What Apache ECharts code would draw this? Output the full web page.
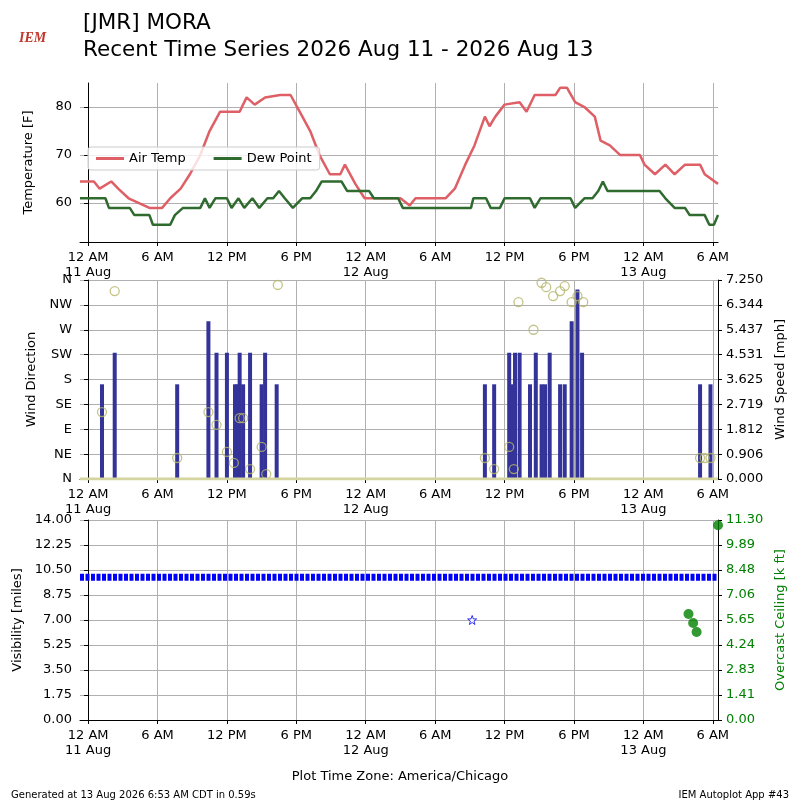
<!DOCTYPE html>
<html><head><meta charset="utf-8">
<script src="https://cdn.jsdelivr.net/npm/echarts@6/dist/echarts.min.js"></script>
<style>body{margin:0}#c{width:800px;height:800px}</style></head>
<body><div id="c"></div>
<script>
// hours since 12 AM 11 Aug (CDT)
var tickHours = [0, 6, 12, 18, 24, 30, 36, 42, 48, 54];
var tickLabels = ['12 AM\n11 Aug', '6 AM', '12 PM', '6 PM', '12 AM\n12 Aug', '6 AM', '12 PM', '6 PM', '12 AM\n13 Aug', '6 AM'];
var speedLabels = ['0.000', '0.906', '1.812', '2.719', '3.625', '4.531', '5.437', '6.344', '7.250'];
var ceilLabels = ['0.00', '1.41', '2.83', '4.24', '5.65', '7.06', '8.48', '9.89', '11.30'];

var airTemp = [[-0.7,64.5],[0.5,64.5],[1.0,63],[2.0,64.5],[2.6,63],[3.5,61],[5.3,59],[6.4,59],[7.1,61],[8.0,63],[8.8,66],[9.7,70],[10.5,75],[11.4,79],[13.1,79],[13.7,82],[14.4,80.5],[15.3,82],[16.6,82.5],[17.5,82.5],[18.3,79],[19.2,75],[20.0,70],[20.9,66],[21.8,66],[22.2,68],[23.1,64],[23.9,61],[27.0,61],[27.8,59.5],[28.3,61],[30.9,61],[31.7,63],[32.6,68],[33.4,72],[34.3,78],[34.7,76],[35.2,78],[36.0,80.5],[37.3,81],[37.9,79],[38.6,82.5],[40.4,82.5],[40.8,84],[41.4,84],[42.1,81],[42.9,80],[43.8,78],[44.3,73],[45.1,72],[46.0,70],[47.7,70],[48.1,68],[49.0,66],[49.9,68],[50.7,66],[51.6,68],[52.9,68],[53.3,66],[54.45,64]];
var dewPoint = [[-0.7,61],[1.5,61],[1.8,59],[3.6,59],[4.0,57.5],[5.3,57.5],[5.6,55.5],[7.1,55.5],[7.5,57.5],[8.2,59],[9.7,59],[10.1,61],[10.5,59],[11.0,61],[12.0,61],[12.4,59],[13.0,61],[13.5,59],[14.2,61],[14.8,59],[15.5,61],[16.0,61],[16.5,62.5],[17.0,61],[17.7,59],[18.5,61],[19.2,61],[19.7,62.5],[20.2,64.5],[21.9,64.5],[22.4,62.5],[24.3,62.5],[24.7,61],[26.8,61],[27.2,59],[33.1,59],[33.3,61],[34.4,61],[34.8,59],[35.6,59],[36.0,61],[38.2,61],[38.6,59],[39.1,61],[41.7,61],[42.1,59],[42.9,61],[43.6,61],[44.1,62.5],[44.5,64.5],[44.9,62.5],[49.4,62.5],[49.9,61],[50.7,59],[51.6,59],[52.0,57.5],[53.3,57.5],[53.7,55.5],[54.1,55.5],[54.45,57.5]];

var windSpeed = [[1.2,3.45],[2.3,4.6],[7.7,3.45],[10.4,5.75],[11.1,4.6],[12.0,4.6],[12.7,3.45],[12.9,3.45],[13.1,4.6],[13.4,3.45],[14.0,4.6],[15.0,3.45],[15.3,4.6],[16.3,3.45],[34.3,3.45],[35.1,3.45],[36.4,4.6],[36.6,3.45],[36.9,4.6],[37.3,4.6],[38.2,3.45],[38.7,4.6],[39.2,3.45],[39.5,3.45],[39.9,4.6],[40.8,3.45],[41.2,3.45],[41.8,5.75],[42.3,6.9],[42.7,4.6],[52.9,3.45],[53.8,3.45]];
var windDir = [[1.2,121],[2.3,340],[7.7,38],[10.4,121],[11.1,98],[12.0,49],[12.6,29],[13.1,110],[13.4,110],[14.0,18],[15.0,58],[15.4,9],[16.4,351],[34.3,38],[35.1,18],[36.4,58],[36.8,18],[37.2,320],[38.5,270],[39.2,355],[39.6,347],[40.2,331],[40.8,340],[41.2,349],[41.8,320],[42.3,331],[42.8,320],[52.9,38],[53.3,38],[53.8,38]];
var calmDir = [[-0.7,0],[54.45,0]];

var visNormal = [[-0.7,10],[54.45,10]];
var visLow = [[33.2,7]];
var ceiling = [[51.9,5.99],[52.3,5.48],[52.6,4.97],[54.45,11.0]];

var font = 'DejaVu Sans';
var xMin = -0.7, xMax = 54.45;
function xAx(i) {
  return {
    type: 'value', gridIndex: i, min: xMin, max: xMax,
    axisLine: {show: true, onZero: false, lineStyle: {color: '#000'}},
    axisTick: {show: true, customValues: tickHours, length: 4, lineStyle: {color: '#000'}},
    axisLabel: {show: true, customValues: tickHours, color: '#000', fontFamily: font, fontSize: 13, lineHeight: 15,
      formatter: function (v) { return tickLabels[tickHours.indexOf(Math.round(v))] || ''; }},
    splitLine: {show: true, lineStyle: {color: '#b0b0b0'}}
  };
}
function yAx(i, opt) {
  var a = {
    type: 'value', gridIndex: i,
    nameLocation: 'middle', nameTextStyle: {color: '#000', fontFamily: font, fontSize: 13},
    axisLine: {show: true, lineStyle: {color: '#000'}},
    axisTick: {show: true, length: 4, lineStyle: {color: '#000'}},
    axisLabel: {color: '#000', fontFamily: font, fontSize: 13},
    splitLine: {show: true, lineStyle: {color: '#b0b0b0'}}
  };
  for (var k in opt) a[k] = opt[k];
  return a;
}
var dirs = ['N', 'NE', 'E', 'SE', 'S', 'SW', 'W', 'NW', 'N'];
var chart = echarts.init(document.getElementById('c'));
chart.setOption({
  animation: false,
  backgroundColor: '#fff',
  title: [
    {text: 'IEM', left: 14, top: 26, textStyle: {color: '#c0392b', fontSize: 14, fontStyle: 'italic', fontFamily: 'Liberation Serif'}},
    {text: '[JMR] MORA\nRecent Time Series 2026 Aug 11 - 2026 Aug 13', left: 78, top: 5,
      textStyle: {color: '#000', fontFamily: font, fontSize: 21.5, fontWeight: 'normal', lineHeight: 27}},
    {text: 'Plot Time Zone: America/Chicago', left: 'center', top: 765, textStyle: {color: '#000', fontFamily: font, fontSize: 13, fontWeight: 'normal'}},
    {text: 'Generated at 13 Aug 2026 6:53 AM CDT in 0.59s', left: 6, top: 785, textStyle: {color: '#000', fontFamily: font, fontSize: 10, fontWeight: 'normal'}},
    {text: 'IEM Autoplot App #43', right: 6, top: 785, textStyle: {color: '#000', fontFamily: font, fontSize: 10, fontWeight: 'normal'}}
  ],
  legend: {
    left: 88, top: 147, itemWidth: 28, itemHeight: 3, itemGap: 28,
    backgroundColor: 'rgba(255,255,255,0.8)', borderColor: '#ccc', borderWidth: 1, borderRadius: 3, padding: [5, 8],
    textStyle: {color: '#000', fontFamily: font, fontSize: 13},
    data: [{name: 'Air Temp', icon: 'rect'}, {name: 'Dew Point', icon: 'rect'}]
  },
  grid: [
    {left: 80, right: 82, top: 83, height: 159},
    {left: 80, right: 82, top: 280, height: 199},
    {left: 80, right: 82, top: 520, height: 200}
  ],
  xAxis: [xAx(0), xAx(1), xAx(2)],
  yAxis: [
    yAx(0, {min: 51.9, max: 85, name: 'Temperature [F]', nameGap: 45,
      axisTick: {show: true, length: 4, customValues: [60, 70, 80]},
      axisLabel: {color: '#000', fontFamily: font, fontSize: 13, customValues: [60, 70, 80]}}),
    yAx(1, {min: 0, max: 360, interval: 45, name: 'Wind Direction', nameGap: 40,
      axisLabel: {color: '#000', fontFamily: font, fontSize: 13, formatter: function (v) { return dirs[Math.round(v / 45)]; }}}),
    yAx(1, {min: 0, max: 7.25, interval: 0.90625, position: 'right', name: 'Wind Speed [mph]', nameGap: 48,
      splitLine: {show: false},
      axisLabel: {color: '#000', fontFamily: font, fontSize: 13, formatter: function (v) { return speedLabels[Math.round(v / 0.90625)]; }}}),
    yAx(2, {min: 0, max: 14, interval: 1.75, name: 'Visibility [miles]', nameGap: 46,
      axisLabel: {color: '#000', fontFamily: font, fontSize: 13, formatter: function (v) { return v.toFixed(2); }}}),
    yAx(2, {min: 0, max: 11.3, interval: 1.4125, position: 'right', name: 'Overcast Ceiling [k ft]', nameGap: 42,
      nameTextStyle: {color: 'green', fontFamily: font, fontSize: 13}, splitLine: {show: false},
      axisLabel: {color: 'green', fontFamily: font, fontSize: 13, formatter: function (v) { return ceilLabels[Math.round(v / 1.4125)]; }}})
  ],
  series: [
    {name: 'Air Temp', type: 'line', xAxisIndex: 0, yAxisIndex: 0, data: airTemp, showSymbol: false,
      lineStyle: {color: '#de5f66', width: 2.5}, itemStyle: {color: '#de5f66'}},
    {name: 'Dew Point', type: 'line', xAxisIndex: 0, yAxisIndex: 0, data: dewPoint, showSymbol: false,
      lineStyle: {color: '#2f6a2f', width: 2.5}, itemStyle: {color: '#2f6a2f'}},
    {type: 'bar', xAxisIndex: 1, yAxisIndex: 2, data: windSpeed, barWidth: 4, itemStyle: {color: '#333399'}},
    {type: 'line', xAxisIndex: 1, yAxisIndex: 1, data: calmDir, showSymbol: false, lineStyle: {color: '#d4d4a0', width: 3}},
    {type: 'scatter', xAxisIndex: 1, yAxisIndex: 1, data: windDir, symbolSize: 9,
      itemStyle: {color: 'rgba(0,0,0,0)', borderColor: '#b5b56a', borderWidth: 1.3}},
    {type: 'line', xAxisIndex: 2, yAxisIndex: 3, data: visNormal, showSymbol: false, lineStyle: {color: '#0000ff', width: 7, type: [4, 1.5]}},
    {type: 'scatter', xAxisIndex: 2, yAxisIndex: 3, data: visLow, symbol: 'path://M0,-10L2.4,-3.2L9.5,-3.1L3.8,1.2L5.9,8.1L0,4L-5.9,8.1L-3.8,1.2L-9.5,-3.1L-2.4,-3.2Z',
      symbolSize: 9, itemStyle: {color: '#fff', borderColor: '#0000ff', borderWidth: 1}},
    {type: 'scatter', xAxisIndex: 2, yAxisIndex: 4, data: ceiling, symbolSize: 10, itemStyle: {color: 'green'}}
  ]
});
</script></body></html>
